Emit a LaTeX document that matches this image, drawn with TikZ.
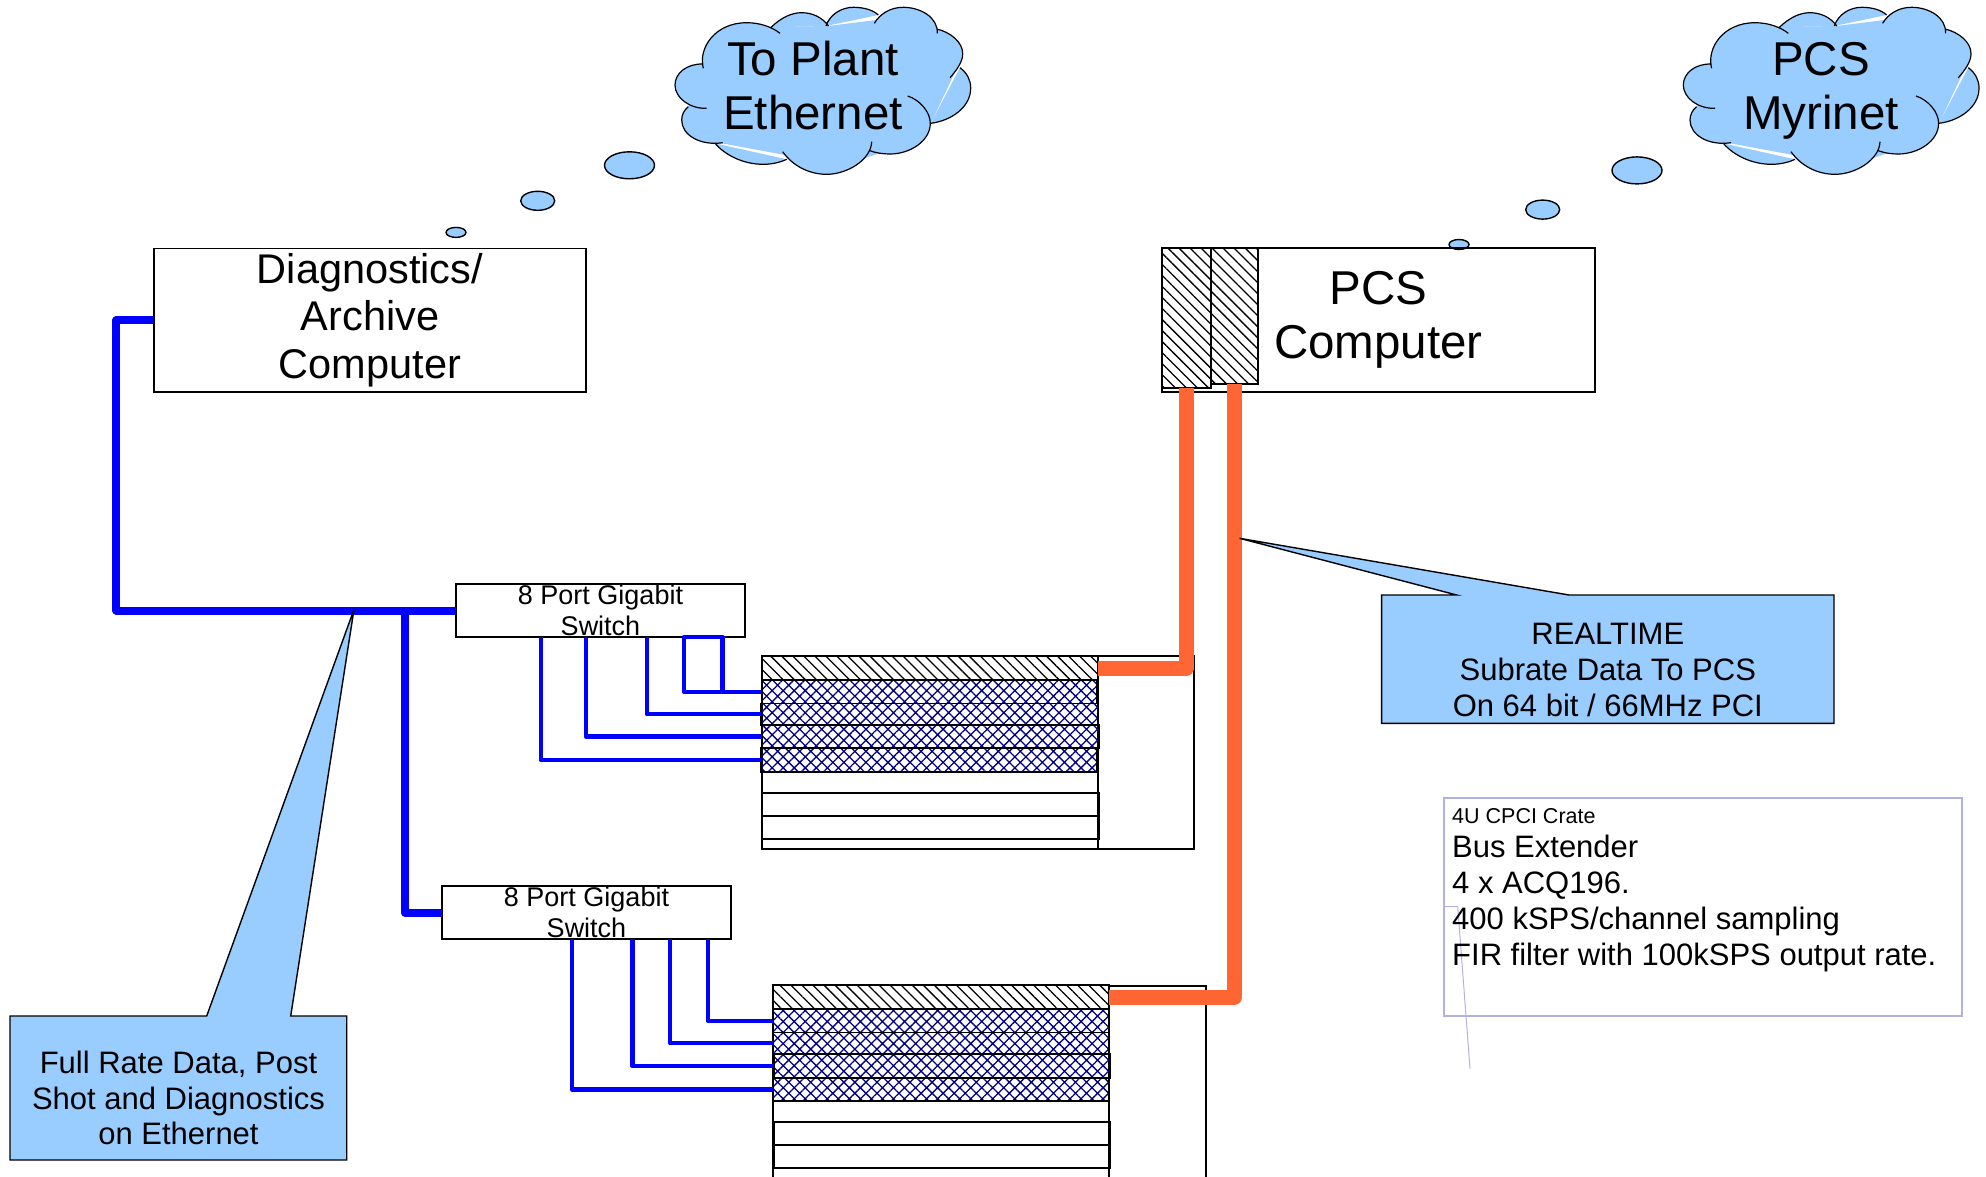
\documentclass[tikz,border=0pt]{standalone}
\usepackage{fontspec}
\setmainfont{Liberation Sans}
\usepackage{xcolor}
\usetikzlibrary{patterns.meta,shapes.geometric}

\definecolor{skyfill}{RGB}{153,204,255}
\definecolor{linkblue}{RGB}{0,0,255}
\definecolor{rtorange}{RGB}{255,102,51}
\definecolor{meshblue}{RGB}{0,0,128}
\definecolor{notelilac}{RGB}{178,178,224}

\tikzset{
  box/.style={draw,anchor=north west,inner sep=0pt,outer sep=0pt,line width=1.4pt,align=center},
  hatchbox/.style={box,pattern={Lines[angle=135,distance=7.8pt,line width=1.3pt]}},
  meshbox/.style={box,pattern={Hatch[angle=45,distance=7.8pt,line width=1.3pt]},pattern color=meshblue},
  bubble/.style={draw,ellipse,fill=skyfill,inner sep=0pt,outer sep=0pt,line width=1.4pt},
  bigtext/.style={font=\fontsize{47.5}{54}\selectfont},
  midtext/.style={font=\fontsize{41.5}{47.5}\selectfont},
  tagtext/.style={font=\fontsize{31}{35.6}\selectfont,align=center},
  swtext/.style={font=\fontsize{27}{31}\selectfont},
  trunk/.style={draw=linkblue,line width=8pt,line join=round},
  feed/.style={draw=linkblue,line width=4.4pt,line join=round},
  rtlink/.style={draw=rtorange,line width=15pt,line join=round},
  tag/.style={fill=skyfill,draw=black,line width=1.4pt},
  puffcloud/.pic={
    \fill[skyfill] (63,66)--(131,27)--(188,26)--(236,20)--(297,31)--(315,72)--(291,123)--(250,150)
      --(187,170)--(145,155)--(80,143)--(48,107)--(60,85)--cycle;
    \filldraw[fill=skyfill,draw=black,line width=1.2pt]
      (63.3,68.3) .. controls (58,48) and (75,22.7) .. (106.7,22.7) .. controls (120,22.7) and (132,27) .. (140,33.3)
      (131,27.3) .. controls (142,17) and (152,12.7) .. (161.7,12.7) .. controls (172,12.7) and (182,17) .. (188.5,26)
      (186,26) .. controls (190,14) and (202,7.3) .. (213.3,7.3) .. controls (224,7.3) and (233,10) .. (238.3,15)
      (234.3,23.3) .. controls (240,14) and (250,7.3) .. (263.3,7.3) .. controls (280,7.3) and (298,17) .. (297.3,33.3)
      (296.7,29) .. controls (310,32) and (323,42) .. (322.7,54) .. controls (322.7,62) and (316,71) .. (310,77.7)
      (320,67.7) .. controls (327,73) and (330.7,80) .. (330.7,88) .. controls (330.7,108) and (310,121) .. (290.7,123.3)
      (267.7,96) .. controls (280,100) and (290.3,112) .. (290.3,123.3) .. controls (290.3,141) and (270,154) .. (250,154) .. controls (243,154) and (236,153) .. (230,150.7)
      (231.7,141.7) .. controls (231,160) and (207,174.3) .. (186.7,174.3) .. controls (168,174.3) and (152,165) .. (142.7,151.7)
      (146.7,159.3) .. controls (139,163) and (130,164.3) .. (123.3,164.3) .. controls (103,164.3) and (85,155) .. (75,143.3)
      (82.7,142.7) .. controls (60,146) and (41.7,135) .. (41.7,120) .. controls (41.7,115) and (44,110) .. (48.3,106.7)
      (66.7,108.3) .. controls (50,109) and (35,98) .. (35,85) .. controls (35,73) and (47,63.5) .. (63.3,64);
  }
}

\begin{document}
\begin{tikzpicture}[x=1pt,y=-1pt]
\useasboundingbox (0,0) rectangle (1986,1176);

\pic at (640,0) {puffcloud};
\pic at (1648.3,0) {puffcloud};
\node[bigtext,align=center] (plant) at (813,86) {To Plant\\Ethernet};
\node[bigtext,align=center] (myri) at (1821,91) {PCS\\Myrinet};

\node[bubble,minimum width=50,minimum height=27] (pa) at (629.5,165.3) {};
\node[bubble,minimum width=34,minimum height=19] (pb) at (537.7,200.8) {};
\node[bubble,minimum width=20,minimum height=10] (pc) at (456,232.4) {};
\node[bubble,minimum width=50,minimum height=27] (qa) at (1637,170.4) {};
\node[bubble,minimum width=34,minimum height=19] (qb) at (1542.7,209.6) {};
\node[bubble,minimum width=20,minimum height=10] (qc) at (1459,244.5) {};

\node[box,midtext,minimum width=432,minimum height=143.5] (diag) at (154,248.3) {Diagnostics/\\Archive\\Computer};
\node[box,bigtext,minimum width=433,minimum height=144] (pcs) at (1162,248) {PCS\\Computer};
\node[hatchbox,minimum width=49,minimum height=140] (pcsa) at (1162,248) {};
\node[hatchbox,minimum width=47,minimum height=136] (pcsb) at (1211,248) {};

\node[box,swtext,minimum width=289,minimum height=53] (swa) at (456,584) {8 Port Gigabit\\Switch};
\node[box,swtext,minimum width=289,minimum height=53] (swb) at (442,886) {8 Port Gigabit\\Switch};

% first crate
\node[box,minimum width=336,minimum height=193] (cra) at (762,656) {};
\node[box,minimum width=96,minimum height=193] (sida) at (1098,656) {};
\node[hatchbox,minimum width=336.5,minimum height=24] (hata) at (761.5,656) {};
\node[meshbox,minimum width=335,minimum height=23.5] (rowa) at (762,680) {};
\node[meshbox,minimum width=337,minimum height=21.5] (rowb) at (761,703.5) {};
\node[meshbox,minimum width=337,minimum height=23] (rowc) at (762,725) {};
\node[meshbox,minimum width=336,minimum height=24] (rowd) at (761,748) {};
\node[box,minimum width=336.5,minimum height=23] (sla) at (762.5,793) {};
\node[box,minimum width=336.5,minimum height=23] (slb) at (762.5,816) {};

% second crate
\node[box,minimum width=336,minimum height=193] (crb) at (773,985) {};
\node[box,minimum width=97,minimum height=193] (sidb) at (1109,986) {};
\node[hatchbox,minimum width=336,minimum height=24] (hatb) at (773,985) {};
\node[meshbox,minimum width=335.5,minimum height=23.5] (rowe) at (773,1009) {};
\node[meshbox,minimum width=335.5,minimum height=21.5] (rowf) at (773,1032.5) {};
\node[meshbox,minimum width=336,minimum height=24] (rowg) at (774,1054) {};
\node[meshbox,minimum width=336,minimum height=23] (rowh) at (773,1078) {};
\node[box,minimum width=336,minimum height=23] (slc) at (774,1122) {};
\node[box,minimum width=336,minimum height=23] (sld) at (774,1145) {};

\coordinate (bend) at (116.4,610.5);
\coordinate (bus) at (404.7,610.5);
\draw[trunk] (diag.west) -| (bend) -- (swa.west);
\draw[trunk] (bus) |- (swb.west);

\coordinate (swaa) at (540.7,637);
\coordinate (swab) at (586,637);
\coordinate (swac) at (646.7,637);
\coordinate (swad) at (684,637);
\coordinate (swae) at (722.3,637);
\draw[feed] (swaa) |- (rowd.west);
\draw[feed] (swab) |- (rowc.west);
\draw[feed] (swac) |- (rowb.west);
\draw[feed] (rowa.west) -| (swad) -- (swae) |- (rowa.west);

\coordinate (swba) at (572,939);
\coordinate (swbb) at (632.3,939);
\coordinate (swbc) at (670,939);
\coordinate (swbd) at (707.7,939);
\draw[feed] (swba) |- (rowh.west);
\draw[feed] (swbb) |- (rowg.west);
\draw[feed] (swbc) |- (rowf.west);
\draw[feed] (swbd) |- (rowe.west);

\draw[rtlink] (hata.east) -| (pcsa.south);
\draw[rtlink] (hatb.east) -| (pcsb.south);

\filldraw[tag] (10,1016)--(206.7,1016)--(354,609.4)--(290.7,1016)--(346.7,1016)--(346.7,1160)--(10,1160)--cycle;
\node[tagtext] (fullrate) at (178.5,1098) {Full Rate Data, Post\\Shot and Diagnostics\\on Ethernet};
\filldraw[tag] (1381.6,595)--(1456.7,595)--(1239.6,538.3)--(1569,595)--(1834,595)--(1834,723.3)--(1381.6,723.3)--cycle;
\node[tagtext] (rtime) at (1607.8,670) {REALTIME\\Subrate Data To PCS\\On 64 bit / 66MHz PCI};

\node[box,draw=notelilac,line width=1.6pt,minimum width=518,minimum height=218] (note) at (1444,798) {};
\coordinate (noteb) at (1457.7,906.7);
\coordinate (notec) at (1470,1068.7);
\draw[notelilac,line width=1pt] (note.west |- noteb) -- (noteb) -- (notec);
\node[font=\fontsize{21.5}{25}\selectfont,anchor=base west,inner sep=0pt] (crate) at (1452,823.3) {4U CPCI Crate};
\node[font=\fontsize{31}{36}\selectfont,anchor=north west,align=left,inner sep=0pt] (spec) at (1452,834.7)
  {Bus Extender\\4 x ACQ196.\\400 kSPS/channel sampling\\FIR filter with 100kSPS output rate.};
\end{tikzpicture}
\end{document}
